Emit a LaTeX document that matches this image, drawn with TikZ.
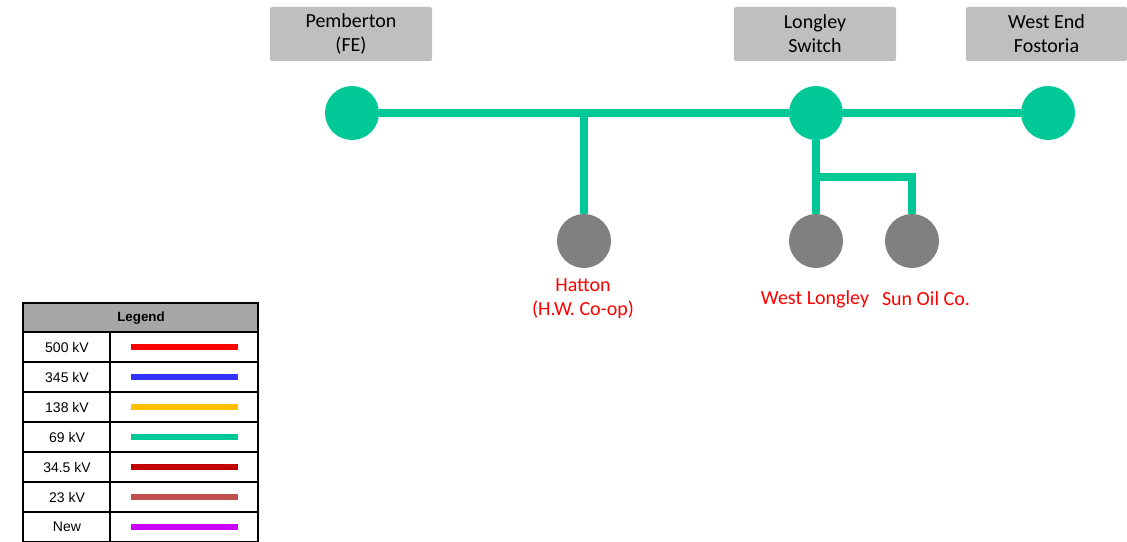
\documentclass[tikz,border=0pt]{standalone}
\usepackage{fontspec}
\setmainfont{Carlito}
\newfontfamily\legendfont{Liberation Sans}
\usepackage{tikz}
\usetikzlibrary{positioning}

\definecolor{lnRed}{RGB}{255,0,0}
\definecolor{lnBlue}{RGB}{51,51,255}
\definecolor{lnAmber}{RGB}{255,192,0}
\definecolor{lnGreen}{RGB}{0,200,150}
\definecolor{lnDarkRed}{RGB}{192,0,0}
\definecolor{lnBrick}{RGB}{192,80,77}
\definecolor{lnViolet}{RGB}{204,0,255}
\definecolor{boxGray}{RGB}{191,191,191}
\definecolor{loadGray}{RGB}{128,128,128}
\definecolor{hdrGray}{RGB}{166,166,166}

\begin{document}
\begin{tikzpicture}[x=0.75pt,y=-0.75pt]
\tikzstyle{bus}=[circle,fill=lnGreen,minimum size=40.5pt,inner sep=0pt]
\tikzstyle{load}=[circle,fill=loadGray,minimum size=40.5pt,inner sep=0pt]
\tikzstyle{namebox}=[fill=boxGray,rounded corners=1.5pt,minimum width=121.5pt,minimum height=40.5pt,align=center,font=\fontsize{15}{18}\selectfont]
\tikzstyle{redlbl}=[text=lnRed,align=center,inner sep=0pt,font=\fontsize{15}{18}\selectfont]
\tikzstyle{kv69}=[draw=lnGreen,line width=6pt]
\tikzstyle{legtxt}=[font=\legendfont\fontsize{10.5}{12}\selectfont,inner sep=0pt]
\tikzstyle{tblline}=[draw=black,line width=1.2pt]
\useasboundingbox (0,0) rectangle (1127,542);

% station names
\node[namebox] (pemT) at (351,34) {Pemberton\\(FE)};
\node[namebox] (lonT) at (815,34) {Longley\\Switch};
\node[namebox,minimum width=120.75pt] (wefT) at (1046.5,34) {West End\\Fostoria};

% 69 kV buses and loads
\node[bus] (pem) at (352,113) {};
\node[bus] (lon) at (816,113) {};
\node[bus] (wef) at (1048,113) {};
\node[load] (hat) at (584,241) {};
\node[load] (wlo) at (816,241) {};
\node[load] (sun) at (912,241) {};

\coordinate (tapH) at (584,113);
\coordinate (tapS) at (816,177);
\draw[kv69] (pem) -- (lon);
\draw[kv69] (lon) -- (wef);
\draw[kv69] (tapH) -- (hat);
\draw[kv69] (lon) -- (wlo);
\draw[kv69] (tapS) -| (sun);

\node[redlbl] (hatL) at (583,299) {Hatton\\(H.W. Co-op)};
\node[redlbl] (wloL) at (815,299) {West Longley};
\node[redlbl] (sunL) at (926,299) {Sun Oil Co.};

% legend table
\fill[hdrGray] (23,303) rectangle (258,332);
\node[legtxt,font=\legendfont\bfseries\fontsize{10}{12}\selectfont] (legT) at (141,318) {Legend};
\foreach \lbl/\col [count=\r] in {500 kV/lnRed,345 kV/lnBlue,138 kV/lnAmber,69 kV/lnGreen,34.5 kV/lnDarkRed,23 kV/lnBrick,New/lnViolet} {
  \node[legtxt] (leg\r) at (67,{317+30*\r}) {\lbl};
  \draw[draw=\col,line width=5pt] (131,{317+30*\r}) -- (238,{317+30*\r});
  \draw[tblline] (23,{302+30*\r}) -- (258,{302+30*\r});
}
\draw[tblline] (23,303) rectangle (258,542);
\draw[tblline] (110,332) -- (110,542);
\end{tikzpicture}
\end{document}
